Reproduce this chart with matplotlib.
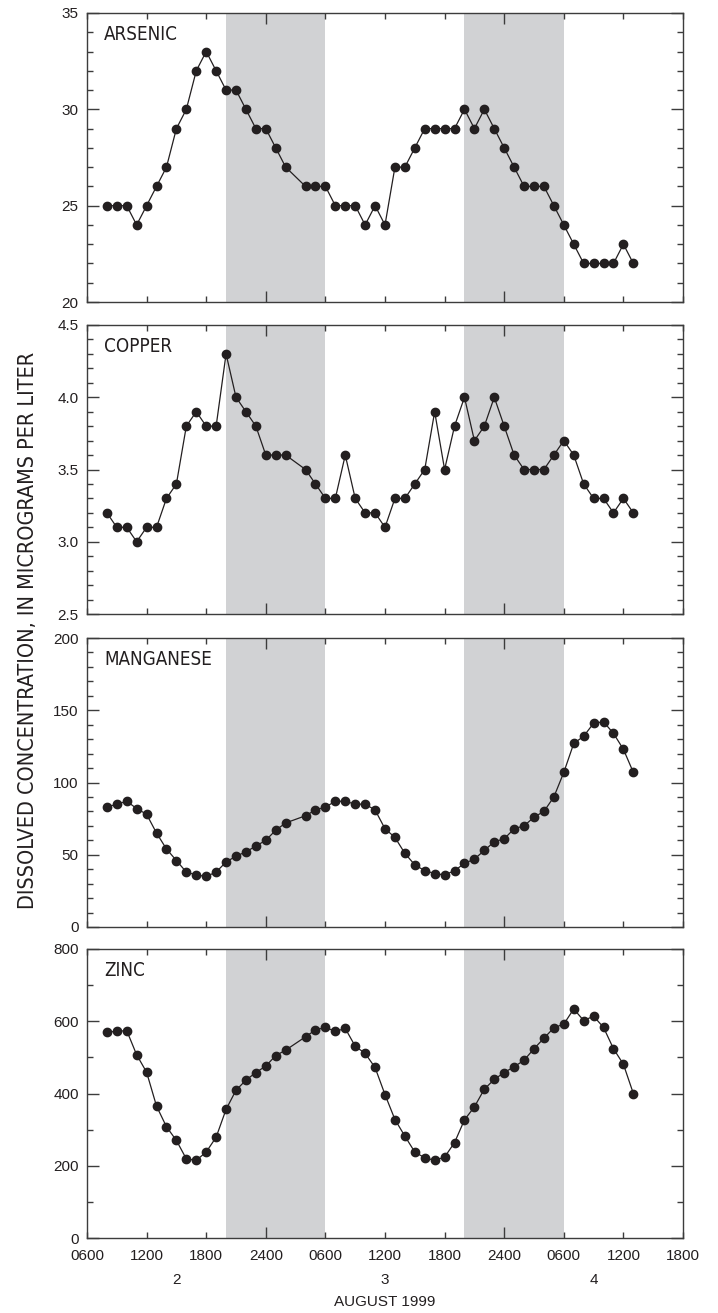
import matplotlib
matplotlib.use('Agg')
import matplotlib.pyplot as plt
from matplotlib.ticker import MultipleLocator, NullLocator, FormatStrFormatter

# sample times: hours after 0000 on August 2 (no sample at 0300 Aug 3)
hours = list(range(8, 27)) + list(range(28, 62))

arsenic = [25, 25, 25, 24, 25, 26, 27, 29, 30, 32, 33, 32, 31, 31, 30, 29, 29, 28, 27,
           26, 26, 26, 25, 25, 25, 24, 25, 24, 27, 27, 28, 29, 29, 29, 29, 30, 29, 30,
           29, 28, 27, 26, 26, 26, 25, 24, 23, 22, 22, 22, 22, 23, 22]
copper = [3.2, 3.1, 3.1, 3.0, 3.1, 3.1, 3.3, 3.4, 3.8, 3.9, 3.8, 3.8, 4.3, 4.0, 3.9, 3.8,
          3.6, 3.6, 3.6,
          3.5, 3.4, 3.3, 3.3, 3.6, 3.3, 3.2, 3.2, 3.1, 3.3, 3.3, 3.4, 3.5, 3.9, 3.5, 3.8,
          4.0, 3.7, 3.8, 4.0, 3.8, 3.6, 3.5, 3.5, 3.5, 3.6, 3.7, 3.6, 3.4, 3.3, 3.3, 3.2,
          3.3, 3.2]
manganese = [83, 85, 87, 82, 78, 65, 54, 46, 38, 36, 35, 38, 45, 49, 52, 56, 60, 67, 72,
             77, 81, 83, 87, 87, 85, 85, 81, 68, 62, 51, 43, 39, 37, 36, 39, 44, 47, 53,
             59, 61, 68, 70, 76, 80, 90, 107, 127, 132, 141, 142, 134, 123, 107]
zinc = [570, 572, 574, 507, 459, 365, 308, 270, 219, 215, 238, 279, 356, 409, 437, 458,
        476, 505, 520,
        557, 576, 583, 572, 580, 531, 511, 472, 397, 328, 282, 238, 222, 215, 224, 264,
        327, 363, 412, 439, 458, 474, 492, 524, 553, 582, 592, 634, 602, 614, 583, 524,
        481, 400]

# night periods (2000 to 0600)
nights = [(20, 30), (44, 54)]

xtick_pos = [6, 12, 18, 24, 30, 36, 42, 48, 54, 60, 66]
xtick_labels = ['0600', '1200', '1800', '2400', '0600', '1200', '1800', '2400',
                '0600', '1200', '1800']
day_pos = [15, 36, 57]
day_labels = ['2', '3', '4']

panels = [
    ('ARSENIC', arsenic, (20, 35), 5, 1, '%d'),
    ('COPPER', copper, (2.5, 4.5), 0.5, 0.1, '%.1f'),
    ('MANGANESE', manganese, (0, 200), 50, 10, '%d'),
    ('ZINC', zinc, (0, 800), 200, 100, '%d'),
]

ink = '#231f20'
spine_col = '#3c3c3c'
shade = '#d1d2d4'
tick_font = ['Liberation Sans', 'DejaVu Sans']
narrow = dict(family='DejaVu Sans', fontstretch='condensed')

W, H = 718, 1313
fig = plt.figure(figsize=(W / 100, H / 100), dpi=100)

left, right = 87, 683
tops = [13, 325, 638, 949]
ph = 289

axes = []
for (name, vals, ylim, major, minor, fmt), top in zip(panels, tops):
    ax = fig.add_axes([left / W, 1 - (top + ph) / H, (right - left) / W, ph / H])
    for a, b in nights:
        ax.axvspan(a, b, color=shade, lw=0, zorder=0)
    ax.plot(hours, vals, '-o', color=ink, lw=0.9, ms=6, zorder=3)
    ax.set_xlim(6, 66)
    ax.set_ylim(*ylim)
    ax.set_xticks(xtick_pos)
    ax.xaxis.set_minor_locator(NullLocator())
    ax.yaxis.set_major_locator(MultipleLocator(major))
    ax.yaxis.set_minor_locator(MultipleLocator(minor))
    ax.yaxis.set_major_formatter(FormatStrFormatter(fmt))
    ax.tick_params(which='both', direction='in', top=True, right=True,
                   color=spine_col, width=1.0, labelcolor=ink, labelsize=11)
    ax.tick_params(axis='y', which='major', length=8.6, pad=6)
    ax.tick_params(axis='y', which='minor', length=4.3)
    ax.tick_params(axis='x', which='major', length=4.3, pad=8)
    for t in ax.get_yticklabels() + ax.get_xticklabels():
        t.set_family(tick_font)
    # longer ticks at midnight
    for tk in ax.xaxis.get_major_ticks():
        if tk.get_loc() in (24, 48):
            tk.tick1line.set_markersize(8)
            tk.tick2line.set_markersize(8)
    for s in ax.spines.values():
        s.set_color(spine_col)
        s.set_linewidth(1.0)
    ax.text(0.029, 0.925, name, transform=ax.transAxes, ha='left', va='center',
            fontsize=13.5, color=ink, **narrow)
    if top != tops[-1]:
        ax.set_xticklabels([])
    else:
        ax.set_xticklabels(xtick_labels)
    axes.append(ax)

ax4 = axes[-1]
for x, lab in zip(day_pos, day_labels):
    ax4.text(x, -0.145, lab, transform=ax4.get_xaxis_transform(), ha='center',
             va='center', fontsize=11, color=ink, family=tick_font)
ax4.text(36, -0.22, 'AUGUST 1999', transform=ax4.get_xaxis_transform(), ha='center',
         va='center', fontsize=11, color=ink, family=tick_font)

fig.text(28 / W, 1 - 630 / H, 'DISSOLVED CONCENTRATION, IN MICROGRAMS PER LITER',
         rotation=90, ha='center', va='center', fontsize=15.5, color=ink, **narrow)

fig.savefig('out.png', dpi=100)
